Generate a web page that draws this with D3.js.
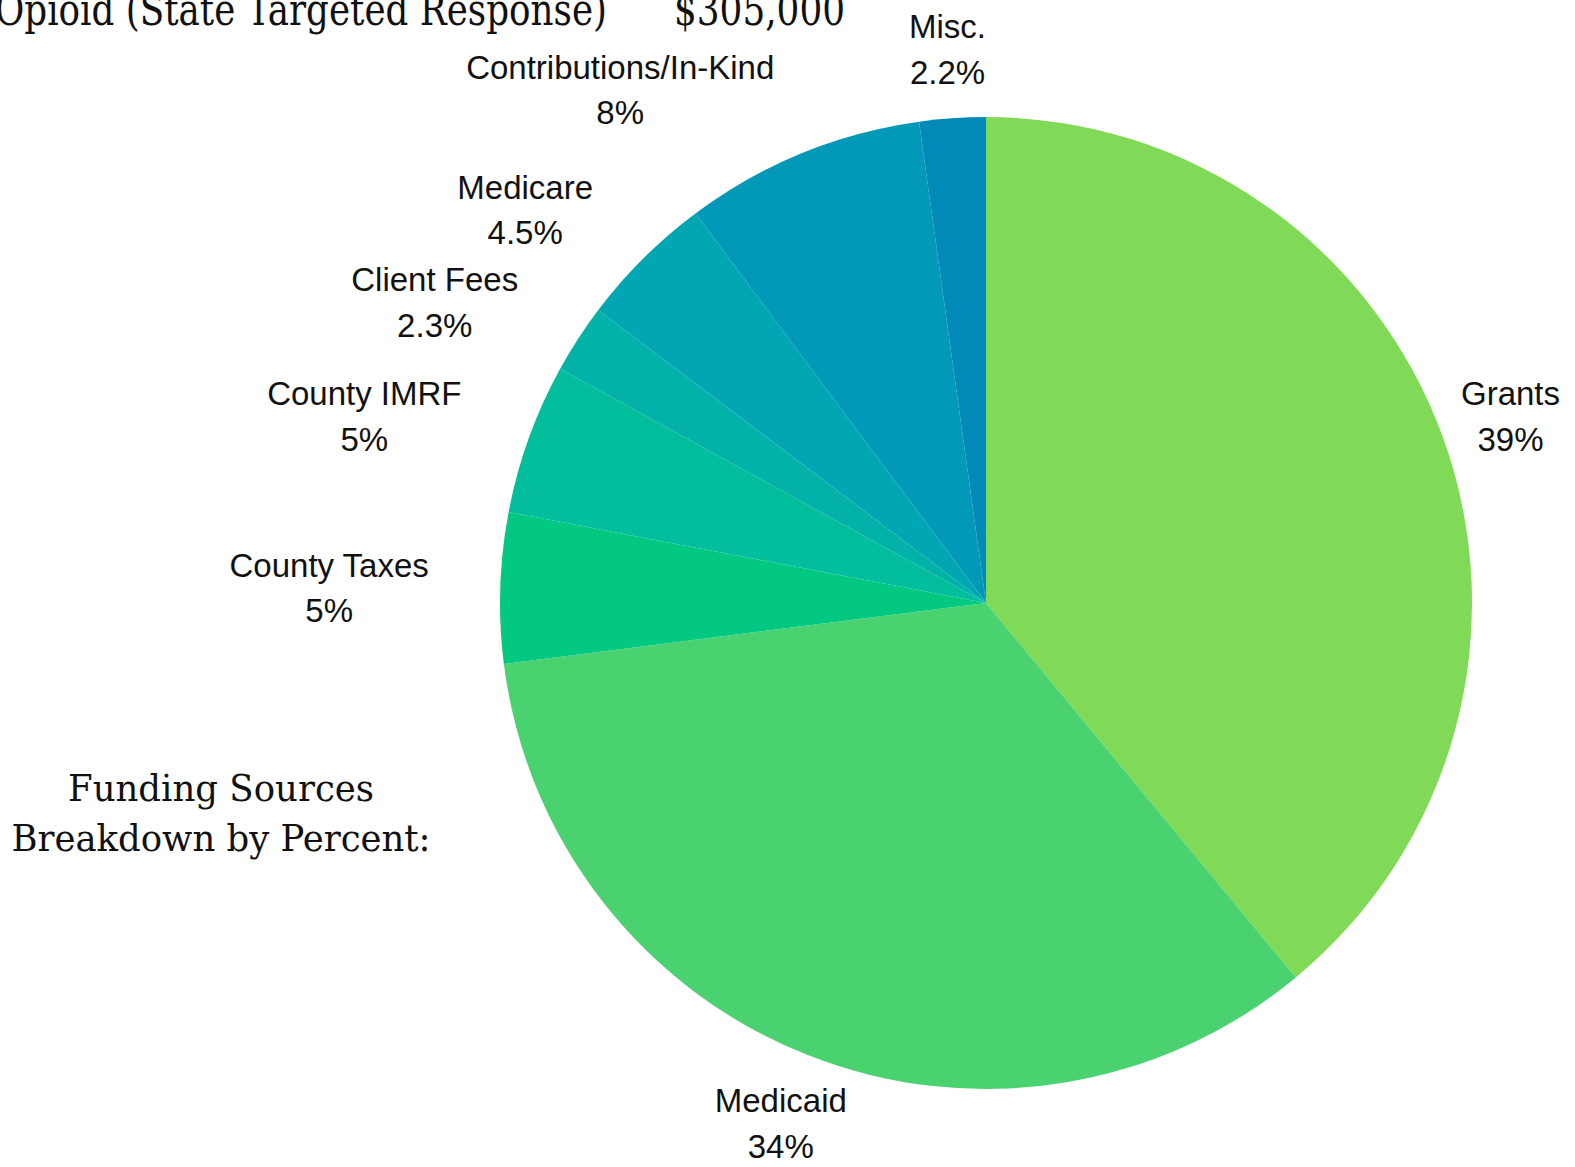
<!DOCTYPE html>
<html>
<head>
<meta charset="utf-8">
<script src="https://cdn.jsdelivr.net/npm/d3@7"></script>
<style>
	html, body { margin:0; padding:0; background:#fff; overflow:hidden; }
	svg { display:block; }
	.label { font-family: "Liberation Sans", Arial, sans-serif; font-size:33px; fill:#111; }
	.title { font-family: "DejaVu Serif", "Liberation Serif", serif; fill:#111; }
</style>
</head>
<body>
<div id="chart"></div>
<script>
// Funding sources, clockwise from 12 o'clock
var categories = ["Grants", "Medicaid", "County Taxes", "County IMRF", "Client Fees", "Medicare", "Contributions/In-Kind", "Misc."];
var percents = [39, 34, 5, 5, 2.3, 4.5, 8, 2.2];
var percentLabels = ["39%", "34%", "5%", "5%", "2.3%", "4.5%", "8%", "2.2%"];
var colors = ["#80d957", "#4bd270", "#02c881", "#03be9d", "#02b2a9", "#01a6b3", "#0299b8", "#0189b8"];

var width = 1575,
	height = 1167;
var center = {x: 986, y: 603};
var radius = 486;

var data = categories.map(function(c, i){
	return {key: c, value: percents[i], label: percentLabels[i], color: colors[i]};
});

var svg = d3.select("#chart").append("svg")
	.attr("width", width)
	.attr("height", height);

// Heading at the top (cut off by the frame) and the side caption
var head = svg.append("g").attr("class", "title").attr("font-size", "44px");
head.append("text")
	.attr("x", -5).attr("y", 25)
	.attr("textLength", 612).attr("lengthAdjust", "spacingAndGlyphs")
	.text("Opioid (State Targeted Response)");
head.append("text")
	.attr("x", 674).attr("y", 25)
	.attr("textLength", 171).attr("lengthAdjust", "spacingAndGlyphs")
	.text("$305,000");

var caption = svg.append("g").attr("class", "title").attr("font-size", "37px").attr("text-anchor", "middle");
caption.append("text").attr("x", 221).attr("y", 801)
	.attr("textLength", 306).attr("lengthAdjust", "spacingAndGlyphs")
	.text("Funding Sources");
caption.append("text").attr("x", 221).attr("y", 851)
	.attr("textLength", 419).attr("lengthAdjust", "spacingAndGlyphs")
	.text("Breakdown by Percent:");

var pie = d3.pie()
	.sort(null)
	.value(function(d){ return d.value; });

var arc = d3.arc()
	.innerRadius(0)
	.outerRadius(radius);

var labelRadius = radius * 1.147;
var labelArc = d3.arc()
	.innerRadius(labelRadius)
	.outerRadius(labelRadius);

var g = svg.append("g")
	.attr("transform", "translate(" + center.x + "," + center.y + ")");

var arcs = pie(data);

g.selectAll("path.slice")
	.data(arcs)
	.enter()
	.append("path")
	.attr("class", "slice")
	.attr("d", arc)
	.attr("fill", function(d){ return d.data.color; });

// Labels: two centred lines, block vertically centred on the label point.
// On the upper-left the block's right edge sits on the point instead.
var capH = 23, lineGap = 45.6, nudge = 2.5;
var labels = g.selectAll("g.lab")
	.data(arcs)
	.enter()
	.append("g")
	.attr("class", "lab label")
	.attr("text-anchor", "middle");

labels.append("text")
	.attr("y", capH - (capH + lineGap) / 2 + nudge)
	.text(function(d){ return d.data.key; });
labels.append("text")
	.attr("y", (capH + lineGap) / 2 + nudge)
	.text(function(d){ return d.data.label; });

labels.attr("transform", function(d){
	var p = labelArc.centroid(d);
	var mid = (d.startAngle + d.endAngle) / 2 * 180 / Math.PI;
	if(mid > 225 && mid < 350){
		var w = d3.max(d3.select(this).selectAll("text").nodes(), function(n){ return n.getComputedTextLength(); });
		p[0] -= w / 2;
	}
	return "translate(" + p[0] + "," + p[1] + ")";
});
</script>
</body>
</html>
